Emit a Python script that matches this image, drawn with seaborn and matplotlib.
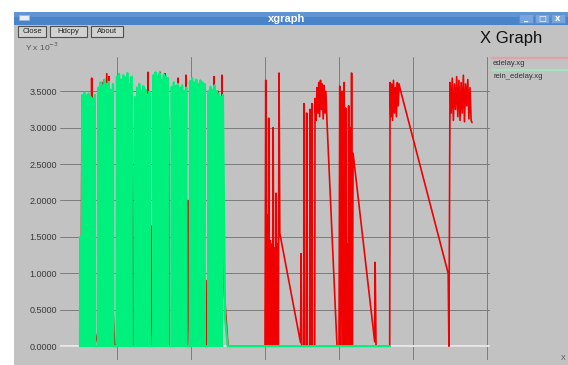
import seaborn as sns
import matplotlib.pyplot as plt
from matplotlib.patches import Rectangle
from matplotlib.lines import Line2D

# ---- data (x in seconds, y in units of 1e-3) ----
y_ticks = [0.0, 0.5, 1.0, 1.5, 2.0, 2.5, 3.0, 3.5]
y_labels = ['0.0000', '0.5000', '1.0000', '1.5000', '2.0000', '2.5000', '3.0000', '3.5000']
x_ticks = [10, 20, 30, 40, 50, 60]

# rein_edelay.xg
green_x = [
    5.0, 5.05, 5.19, 5.33, 5.47, 5.61, 5.75, 5.89, 6.03, 6.17, 6.31, 6.45, 6.59, 6.73, 6.87, 7.01, 7.06,
    7.45, 7.5, 7.64, 7.78, 7.92, 8.06, 8.2, 8.34, 8.48, 8.62, 8.76, 8.9, 9.04, 9.18, 9.32, 9.46, 9.51,
    9.95, 10.0, 10.14, 10.28, 10.42, 10.56, 10.7, 10.84, 10.98, 11.12, 11.26, 11.4, 11.54, 11.68, 11.82, 11.96, 12.01,
    12.4, 12.45, 12.59, 12.73, 12.87, 13.01, 13.15, 13.29, 13.43, 13.57, 13.71, 13.85, 13.99, 14.13, 14.27, 14.41, 14.46,
    14.88, 14.93, 15.07, 15.21, 15.35, 15.49, 15.63, 15.77, 15.91, 16.05, 16.19, 16.33, 16.47, 16.61, 16.75, 16.89, 16.94,
    17.35, 17.4, 17.54, 17.68, 17.82, 17.96, 18.1, 18.24, 18.38, 18.52, 18.66, 18.8, 18.94, 19.08, 19.22, 19.36, 19.41,
    19.82, 19.87, 20.01, 20.15, 20.29, 20.43, 20.57, 20.71, 20.85, 20.99, 21.13, 21.27, 21.41, 21.55, 21.69, 21.83, 21.88,
    22.3, 22.35, 22.49, 22.63, 22.77, 22.91, 23.05, 23.19, 23.33, 23.47, 23.61, 23.75, 23.89, 24.03, 24.17, 24.31, 24.6, 24.95,
    46.9,
]
green_y = [
    0.0, 1.5, 0.0, 3.45, 0.0, 3.48, 0.0, 3.44, 0.0, 3.47, 0.0, 3.42, 0.0, 3.4, 0.0, 3.45, 0.0,
    0.0, 3.55, 0.0, 3.62, 0.0, 3.58, 0.0, 3.66, 0.0, 3.6, 0.0, 3.63, 0.0, 3.52, 0.0, 3.6, 0.0,
    0.0, 3.7, 0.0, 3.74, 0.0, 3.66, 0.0, 3.72, 0.0, 3.69, 0.0, 3.75, 0.0, 3.6, 0.0, 3.7, 0.0,
    0.0, 3.42, 0.0, 3.55, 0.0, 3.6, 0.0, 3.5, 0.0, 3.57, 0.0, 3.52, 0.0, 3.45, 0.0, 3.5, 0.0,
    0.0, 3.72, 0.0, 3.76, 0.0, 3.7, 0.0, 3.75, 0.0, 3.66, 0.0, 3.73, 0.0, 3.7, 0.0, 3.68, 0.0,
    0.0, 3.56, 0.0, 3.62, 0.0, 3.57, 0.0, 3.6, 0.0, 3.55, 0.0, 3.58, 0.0, 3.5, 0.0, 3.55, 0.0,
    0.0, 3.64, 0.0, 3.68, 0.0, 3.62, 0.0, 3.66, 0.0, 3.6, 0.0, 3.65, 0.0, 3.62, 0.0, 3.6, 0.0,
    0.0, 3.5, 0.0, 3.56, 0.0, 3.52, 0.0, 3.58, 0.0, 3.5, 0.0, 3.47, 0.0, 3.42, 0.0, 3.45, 0.4, 0.0,
    0.0,
]

# edelay.xg
red_x = [
    5.15, 5.27, 5.32, 5.37, 5.45, 6.5, 6.58, 6.62, 7.4,
    7.95, 8.0, 8.1, 8.22, 8.28, 8.38, 8.62, 8.68, 8.78, 8.92, 9.0, 9.45, 9.7,
    11.95, 12.03, 12.08, 12.15, 13.05, 13.11, 13.16, 13.25, 13.45, 13.51, 13.56, 13.62,
    14.12, 14.19, 14.24, 14.5, 14.59, 14.64, 14.8, 15.08, 15.14, 15.2,
    15.75, 15.81, 15.87, 16.42, 16.49, 16.55, 16.83, 16.89, 16.95, 17.05,
    17.62, 17.7, 17.76, 17.85, 18.18, 18.24, 18.3, 18.72, 18.78, 18.84, 18.92,
    19.26, 19.32, 19.38, 19.5, 19.55, 19.6, 19.73, 19.8,
    22.1, 22.16, 22.25, 22.35, 22.78, 22.84, 22.9, 22.98, 23.05, 23.11, 23.18, 23.3,
    23.6, 23.65, 23.72, 23.8, 24.12, 24.19, 24.3, 24.35, 25.0, 29.95,
    30.0, 30.1, 30.2, 30.3, 30.4, 30.5, 30.6, 30.7, 30.8, 30.9, 31.0,
    31.1, 31.2, 31.3, 31.4, 31.5, 31.6, 31.7, 31.8, 31.9, 32.0,
    34.8, 34.87, 34.95, 35.22, 35.27, 35.32, 35.58, 35.63, 35.68,
    36.03, 36.08, 36.13, 36.3, 36.35, 36.4,
    36.72, 36.76, 36.9, 37.02, 37.14, 37.26, 37.38, 37.5, 37.62, 37.74, 37.86, 37.98, 38.1, 38.22, 38.38,
    39.73, 40.0, 40.1, 40.2, 40.3, 40.4, 40.5, 40.6, 40.7, 40.8, 40.9, 41.0,
    41.1, 41.2, 41.3, 41.4, 41.5, 41.6, 41.7, 41.8, 41.9,
    44.82, 44.88, 45.0, 46.85,
    46.9, 47.0, 47.12, 47.24, 47.36, 47.5, 47.62, 47.76, 47.88, 48.0, 48.12, 48.24,
    54.75, 54.85, 55.0, 55.15, 55.3, 55.45, 55.6, 55.75, 55.9, 56.05, 56.2, 56.35,
    56.5, 56.65, 56.8, 56.95, 57.1, 57.25, 57.4, 57.55, 57.7, 57.85, 57.97,
]
red_y = [
    0.0, 3.3, 2.0, 1.55, 0.0, 0.0, 3.68, 0.36, 0.04,
    3.62, 1.22, 0.0, 3.65, 1.45, 0.0, 3.74, 1.1, 0.0, 3.7, 1.5, 0.5, 0.02,
    0.0, 3.15, 2.9, 0.0, 0.0, 3.3, 1.25, 0.0, 0.0, 3.42, 1.3, 0.0,
    0.0, 3.76, 0.0, 0.0, 1.65, 0.75, 0.0, 0.0, 3.73, 0.0,
    0.0, 3.76, 0.0, 0.0, 3.74, 0.0, 0.0, 3.35, 3.1, 0.0,
    0.0, 2.5, 0.77, 0.0, 0.0, 3.68, 0.0, 0.0, 3.56, 2.2, 0.0,
    0.0, 3.72, 0.0, 0.0, 2.0, 1.75, 0.3, 0.0,
    0.0, 0.9, 0.5, 0.0, 0.0, 2.0, 1.4, 0.0, 0.0, 3.7, 2.6, 0.0,
    0.0, 3.5, 3.0, 0.0, 0.0, 3.72, 1.2, 0.95, 0.0, 0.0,
    0.0, 3.65, 0.0, 1.8, 0.0, 3.13, 0.0, 1.45, 0.0, 1.4, 0.0,
    3.0, 0.0, 1.35, 0.0, 2.1, 0.0, 1.4, 0.0, 3.75, 1.55,
    0.05, 1.27, 0.0, 0.0, 3.33, 0.0, 0.0, 3.2, 0.0,
    0.0, 3.25, 0.0, 0.0, 3.33, 0.0,
    0.0, 3.4, 3.1, 3.55, 3.2, 3.62, 3.15, 3.65, 3.25, 3.6, 3.12, 3.58, 3.2, 3.5, 3.07,
    0.0, 0.0, 3.57, 0.0, 1.45, 3.5, 0.0, 1.4, 3.62, 0.0, 3.27, 0.0,
    1.4, 0.0, 3.3, 0.0, 3.0, 0.0, 3.75, 0.0, 2.65,
    0.06, 1.15, 0.0, 0.0,
    3.62, 3.15, 3.6, 3.1, 3.65, 3.2, 3.55, 3.15, 3.62, 3.3, 3.6, 3.54,
    1.0, 0.0, 3.62, 3.2, 3.68, 3.1, 3.6, 3.25, 3.7, 3.15, 3.65, 3.1,
    3.62, 3.2, 3.72, 3.08, 3.6, 3.3, 3.66, 3.12, 3.55, 3.1, 3.07,
]

W, H = 568, 365
gray = '#c2c2c2'


def fx(p):
    return p / W


def fy(p):
    return 1 - p / H


sns.set_style("white")
plt.rcParams['font.family'] = ['Liberation Sans', 'DejaVu Sans']

fig = plt.figure(figsize=(W / 100, H / 100), dpi=100, facecolor='white')

# window frame (kept below the axes)
fig.patches.append(Rectangle((fx(14), 0), 1 - fx(14), fy(24), transform=fig.transFigure,
                             facecolor=gray, edgecolor='none', zorder=-3))
fig.patches.append(Rectangle((fx(14), fy(25)), 1 - fx(14), 13 / H, transform=fig.transFigure,
                             facecolor='#4a84c8', edgecolor='none', zorder=-3))
fig.patches.append(Rectangle((fx(14), fy(17)), 1 - fx(14), 5 / H, transform=fig.transFigure,
                             facecolor='#5f95d4', edgecolor='none', zorder=-2))
fig.patches.append(Rectangle((fx(19), fy(20)), 10 / W, 5 / H, transform=fig.transFigure,
                             facecolor='#e8eef8', edgecolor='#9ab4dc', lw=0.5, zorder=-1))
fig.text(fx(287), fy(18.5), 'xgraph', color='white', fontsize=8, fontweight='bold',
         ha='center', va='center')
for x0, glyph in [(519, '_'), (535, '\u25a1'), (551, 'x')]:
    fig.patches.append(Rectangle((fx(x0), fy(23)), 14 / W, 9 / H, transform=fig.transFigure,
                                 facecolor='#79a5dc', edgecolor='#5a8cc8', lw=0.5, zorder=-1))
    fig.text(fx(x0 + 7), fy(18.5), glyph, color='white', fontsize=6, fontweight='bold',
             ha='center', va='center', family=['DejaVu Sans'])

# buttons
for x0, x1, label in [(18, 46, 'Close'), (50, 87, 'Hdcpy'), (91, 123, 'About')]:
    fig.patches.append(Rectangle((fx(x0), fy(37)), (x1 - x0) / W, 11 / H, transform=fig.transFigure,
                                 facecolor='#d2d2d2', edgecolor='#505050', lw=0.8, zorder=-1))
    fig.text(fx((x0 + x1) / 2), fy(31.5), label, fontsize=5.5, color='#222',
             ha='center', va='center')

fig.text(fx(480), fy(38), 'X Graph', fontsize=12, color='#111', ha='left', va='center')
fig.text(fx(25), fy(47), r'Y x 10$^{-3}$', fontsize=6, color='#555', ha='left', va='center')
fig.text(fx(563), fy(358), 'X', fontsize=5, color='#555', ha='center', va='center')

# legend
fig.add_artist(Line2D([fx(492), 1], [fy(58), fy(58)], color='#e4a0a8', lw=1.6))
fig.text(fx(493), fy(63.5), 'edelay.xg', fontsize=5.5, color='#333', ha='left', va='center')
fig.add_artist(Line2D([fx(492), 1], [fy(70), fy(70)], color='#a4e4bc', lw=1.6))
fig.text(fx(493), fy(76.5), 'rein_edelay.xg', fontsize=5.5, color='#333', ha='left', va='center')

# plot area: datasets drawn in file order, the second one over the first
ax = fig.add_axes([fx(60), 5 / H, 430 / W, 303 / H])
ax.set_facecolor(gray)

sns.lineplot(x=red_x, y=red_y, sort=False, estimator=None, color='#f00000',
             lw=1.2, ax=ax, zorder=3, legend=False)
sns.lineplot(x=green_x, y=green_y, sort=False, estimator=None, color='#00f07e',
             lw=1.6, ax=ax, zorder=4, legend=False)
ax.axhline(0, color='#ececec', lw=1.3, zorder=2)

ax.set_xlim(2.3, 60.4)
ax.set_ylim(-0.19, 3.97)
ax.set_xticks(x_ticks)
ax.set_yticks(y_ticks)
ax.set_yticklabels(y_labels)
ax.tick_params(length=0, labelsize=6.5, labelcolor='#3a3a3a', pad=2)
ax.tick_params(axis='x', labelbottom=False)
ax.grid(True, color='#7c7c7c', lw=0.7)
ax.set_axisbelow(True)
ax.set_xlabel('')
ax.set_ylabel('')
for s in ax.spines.values():
    s.set_visible(False)

fig.savefig('out.png', dpi=100, facecolor=fig.get_facecolor())
